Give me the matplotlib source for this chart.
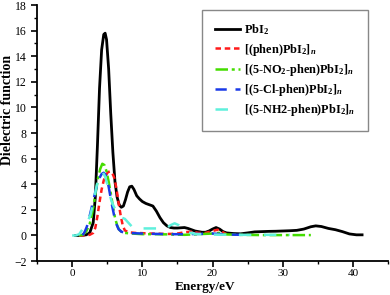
import matplotlib
matplotlib.use("Agg")
import matplotlib.pyplot as plt
from matplotlib.ticker import MultipleLocator

plt.rcParams['font.family'] = ['Liberation Serif', 'DejaVu Serif']
plt.rcParams['mathtext.fontset'] = 'custom'
plt.rcParams['mathtext.rm'] = 'Liberation Serif:bold'
plt.rcParams['mathtext.it'] = 'Liberation Serif:bold:italic'
plt.rcParams['mathtext.bf'] = 'Liberation Serif:bold'
plt.rcParams['mathtext.default'] = 'rm'

# ---- data (energy in eV, dielectric function) ----
pbi2_E = [0.5, 1.0, 1.5, 2.0, 2.5, 3.0, 3.3, 3.6, 3.9, 4.2, 4.5, 4.7, 4.9, 5.2, 5.5, 5.8, 6.1,
          6.4, 6.7, 7.0, 7.3, 7.6, 7.9, 8.2, 8.5, 8.8, 9.2, 9.6, 10.0, 10.5, 11.0, 11.5, 12.0,
          12.5, 13.0, 13.5, 14.0, 14.5, 15.0, 15.5, 16.0, 16.5, 17.0, 17.5, 18.0, 18.5, 19.0,
          19.5, 20.0, 20.5, 21.0, 21.5, 22.0, 23.0, 24.0, 25.0, 26.0, 27.0, 28.0, 29.0, 30.0,
          31.0, 32.0, 33.0, 34.0, 34.7, 35.5, 36.5, 37.5, 38.5, 39.5, 40.5, 41.3]
pbi2_V = [0.0, 0.0, 0.02, 0.05, 0.2, 1.0, 3.0, 7.0, 11.5, 14.5, 15.7, 15.8, 15.3, 13.0, 9.5, 6.5, 4.2,
          3.0, 2.4, 2.2, 2.3, 2.8, 3.4, 3.8, 3.85, 3.6, 3.1, 2.85, 2.65, 2.5, 2.4, 2.3, 1.9,
          1.4, 1.0, 0.75, 0.62, 0.58, 0.58, 0.6, 0.62, 0.55, 0.45, 0.35, 0.3, 0.25, 0.25,
          0.35, 0.5, 0.62, 0.5, 0.3, 0.2, 0.15, 0.13, 0.2, 0.28, 0.3, 0.32, 0.33, 0.35,
          0.37, 0.4, 0.5, 0.68, 0.75, 0.7, 0.55, 0.45, 0.3, 0.12, 0.05, 0.05]

phen_E = [1.0, 2.0, 2.5, 3.0, 3.3, 3.6, 3.9, 4.2, 4.5, 4.8, 5.1, 5.4, 5.7, 6.0, 6.3, 6.6, 6.9,
          7.2, 7.5, 8.0, 9.0, 10.0, 11.0, 12.0, 13.0, 14.0, 15.0, 16.0, 17.0, 18.0, 19.0,
          20.0, 20.7, 21.3, 22.0]
phen_V = [0.0, 0.02, 0.05, 0.2, 0.6, 1.5, 2.6, 3.6, 4.3, 4.7, 4.95, 5.0, 4.9, 4.5, 3.7, 2.6, 1.6,
          0.8, 0.4, 0.25, 0.2, 0.18, 0.15, 0.15, 0.12, 0.12, 0.15, 0.25, 0.3, 0.2, 0.2,
          0.35, 0.45, 0.3, 0.1]

no2_E = [1.0, 1.5, 2.0, 2.5, 2.8, 3.1, 3.4, 3.7, 4.0, 4.3, 4.6, 4.9, 5.2, 5.5, 5.8, 6.1, 6.4,
         6.7, 7.0, 7.5, 8.5, 10.0, 12.0, 14.0, 16.0, 18.0, 20.0, 21.0, 22.0, 24.0, 27.0, 30.0, 34.0]
no2_V = [0.0, 0.05, 0.3, 0.9, 1.6, 2.5, 3.5, 4.5, 5.2, 5.6, 5.5, 5.0, 4.2, 3.3, 2.3, 1.4, 0.8,
         0.45, 0.3, 0.2, 0.15, 0.1, 0.1, 0.08, 0.05, 0.1, 0.15, 0.2, 0.08, 0.05, 0.03, 0.03, 0.03]

cl_E = [1.5, 1.8, 2.1, 2.4, 2.7, 3.0, 3.3, 3.6, 3.9, 4.2, 4.5, 4.8, 5.1, 5.4, 5.7, 6.0, 6.3,
        6.6, 7.0, 7.5, 8.5, 10.0, 12.0, 14.0, 16.0, 18.0, 20.0, 22.0, 24.0]
cl_V = [0.02, 0.3, 0.7, 1.3, 2.0, 2.7, 3.4, 4.0, 4.5, 4.8, 4.9, 4.7, 4.1, 3.2, 2.3, 1.5, 0.9,
        0.5, 0.3, 0.2, 0.18, 0.15, 0.12, 0.1, 0.1, 0.12, 0.15, 0.08, 0.05]

nh2_E = [0.0, 0.5, 1.0, 1.5, 2.0, 2.3, 2.6, 2.9, 3.2, 3.5, 3.8, 4.1, 4.4, 4.7, 5.0, 5.3, 5.6,
         5.9, 6.2, 6.5, 7.0, 7.5, 8.0, 8.5, 9.0, 10.0, 11.0, 12.0, 13.0, 13.5, 14.0, 14.6,
         15.2, 15.8, 16.5, 17.5, 19.0, 21.0, 24.0, 28.0, 31.0]
nh2_V = [0.0, 0.0, 0.1, 0.5, 1.0, 1.2, 1.6, 2.3, 3.1, 3.9, 4.5, 4.85, 4.9, 4.6, 4.0, 3.3, 2.7,
         2.3, 2.0, 1.7, 1.4, 1.3, 1.0, 0.7, 0.6, 0.55, 0.55, 0.55, 0.5, 0.6, 0.8, 0.95,
         0.8, 0.45, 0.25, 0.12, 0.08, 0.06, 0.05, 0.05, 0.05]

labels = [r'PbI$_2$', r'[(phen)PbI$_2$]$_{\it n}$', r'[(5-NO$_2$-phen)PbI$_2$]$_{\it n}$',
          r'[(5-Cl-phen)PbI$_2$]$_{\it n}$', r'[(5-NH2-phen)PbI$_2$]$_{\it n}$']

fig = plt.figure(figsize=(3.9, 2.95), dpi=100)
ax = fig.add_axes([0.095, 0.115, 0.9, 0.868])

ax.plot(pbi2_E, pbi2_V, color='black', lw=2.0, label=labels[0])
ax.plot(phen_E, phen_V, color='#ff1a1a', lw=1.8, linestyle=(0, (2.2, 1.5)), label=labels[1])
ax.plot(no2_E, no2_V, color='#44dd00', lw=1.8, linestyle=(0, (5, 1.5, 1.2, 1.5)), label=labels[2])
ax.plot(cl_E, cl_V, color='#1a3ae8', lw=1.8, linestyle=(0, (4.5, 3.5)), label=labels[3])
ax.plot(nh2_E, nh2_V, color='#5ff0dc', lw=1.8, linestyle=(0, (5, 5)), label=labels[4])

ax.set_xlim(-5, 45)
ax.set_ylim(-2, 18)
ax.xaxis.set_major_locator(MultipleLocator(10))
ax.xaxis.set_minor_locator(MultipleLocator(5))
ax.yaxis.set_major_locator(MultipleLocator(2))
ax.yaxis.set_minor_locator(MultipleLocator(1))
ax.set_xticks([0, 10, 20, 30, 40])
ax.tick_params(which='major', direction='out', length=4, width=1.2, labelsize=8.5)
ax.tick_params(axis='x', which='major', pad=1.5, labelsize=8)
ax.tick_params(which='minor', direction='out', length=2.5, width=1.0)
for s in ['top', 'right']:
    ax.spines[s].set_visible(False)
for s in ['left', 'bottom']:
    ax.spines[s].set_linewidth(1.3)

ax.set_xlabel('Energy/eV', fontsize=9.5, fontweight='bold')
ax.xaxis.set_label_coords(0.479, -0.076)
ax.set_ylabel('Dielectric function', fontsize=10, fontweight='bold')
ax.yaxis.set_label_coords(-0.066, 0.59)

leg = ax.legend(loc='upper right', bbox_to_anchor=(0.943, 0.982), borderaxespad=0,
                fontsize=8.8, fancybox=False, edgecolor='#888888', framealpha=1,
                handlelength=2.1, labelspacing=0.35, borderpad=1.05, handletextpad=0.3)
for t in leg.get_texts():
    t.set_fontweight('bold')
leg.get_frame().set_linewidth(1.0)

fig.savefig('out.png', dpi=100)
